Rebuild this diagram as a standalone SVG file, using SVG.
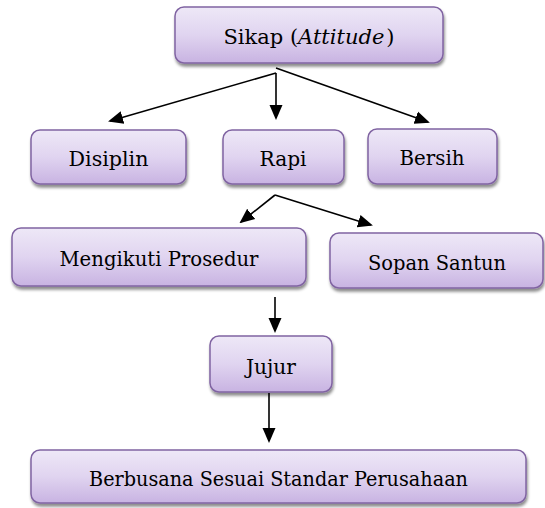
<svg xmlns="http://www.w3.org/2000/svg" width="545" height="508" viewBox="0 0 545 508">
  <defs>
    <linearGradient id="boxFill" x1="0" y1="0" x2="0" y2="1">
      <stop offset="0" stop-color="#eee8f7"/>
      <stop offset="0.5" stop-color="#e0d4f0"/>
      <stop offset="1" stop-color="#c8b3e2"/>
    </linearGradient>
    <filter id="shadow" x="-10%" y="-20%" width="120%" height="150%">
      <feDropShadow dx="1" dy="3" stdDeviation="1.5" flood-color="#000" flood-opacity="0.45"/>
    </filter>
    <marker id="arrow" markerUnits="userSpaceOnUse" markerWidth="15" markerHeight="15" viewBox="0 0 15 15" refX="13" refY="7.5" orient="auto">
      <path d="M0,1 L15,7.5 L0,14 z" fill="#000"/>
    </marker>
  </defs>
  <style>
    .box { fill: url(#boxFill); stroke: #8064a2; stroke-width: 1.5; filter: url(#shadow); }
    .label { font-family: 'DejaVu Serif', 'Liberation Serif', serif; font-size: 21px; fill: #000; text-anchor: middle; }
    .conn { stroke: #000; stroke-width: 1.6; fill: none; marker-end: url(#arrow); }
  </style>

  <g id="connectors">
    <line class="conn" x1="276" y1="73" x2="110" y2="121"/>
    <line class="conn" x1="276" y1="73" x2="276" y2="118"/>
    <line class="conn" x1="276" y1="68" x2="428" y2="122"/>
    <line class="conn" x1="275" y1="195" x2="241" y2="222"/>
    <line class="conn" x1="275" y1="195" x2="371" y2="225"/>
    <line class="conn" x1="275" y1="297" x2="275" y2="331"/>
    <line class="conn" x1="269" y1="393" x2="269" y2="441"/>
  </g>

  <g id="sikap">
    <rect class="box" x="175" y="7" width="268" height="56" rx="9"/>
    <text class="label" x="309" y="44" font-size="20">Sikap (<tspan font-style="italic">Attitude</tspan><tspan dx="2">)</tspan></text>
  </g>
  <g id="disiplin">
    <rect class="box" x="31" y="130" width="155" height="54" rx="9"/>
    <text class="label" x="108.5" y="166" textLength="80" lengthAdjust="spacingAndGlyphs">Disiplin</text>
  </g>
  <g id="rapi">
    <rect class="box" x="223" y="130" width="121" height="54" rx="9"/>
    <text class="label" x="283" y="166" textLength="47" lengthAdjust="spacingAndGlyphs">Rapi</text>
  </g>
  <g id="bersih">
    <rect class="box" x="368" y="129" width="129" height="55" rx="9"/>
    <text class="label" x="432" y="165" textLength="65" lengthAdjust="spacingAndGlyphs">Bersih</text>
  </g>
  <g id="mengikuti-prosedur">
    <rect class="box" x="12" y="228" width="294" height="58" rx="9"/>
    <text class="label" x="159" y="266" textLength="199" lengthAdjust="spacingAndGlyphs">Mengikuti Prosedur</text>
  </g>
  <g id="sopan-santun">
    <rect class="box" x="330" y="233" width="213" height="55" rx="9"/>
    <text class="label" x="437" y="270" textLength="138" lengthAdjust="spacingAndGlyphs">Sopan Santun</text>
  </g>
  <g id="jujur">
    <rect class="box" x="210" y="336" width="122" height="56" rx="9"/>
    <text class="label" x="271" y="374" textLength="50" lengthAdjust="spacingAndGlyphs">Jujur</text>
  </g>
  <g id="berbusana">
    <rect class="box" x="31" y="450" width="495" height="53" rx="9"/>
    <text class="label" x="278.5" y="486" textLength="379" lengthAdjust="spacingAndGlyphs">Berbusana Sesuai Standar Perusahaan</text>
  </g>
</svg>
